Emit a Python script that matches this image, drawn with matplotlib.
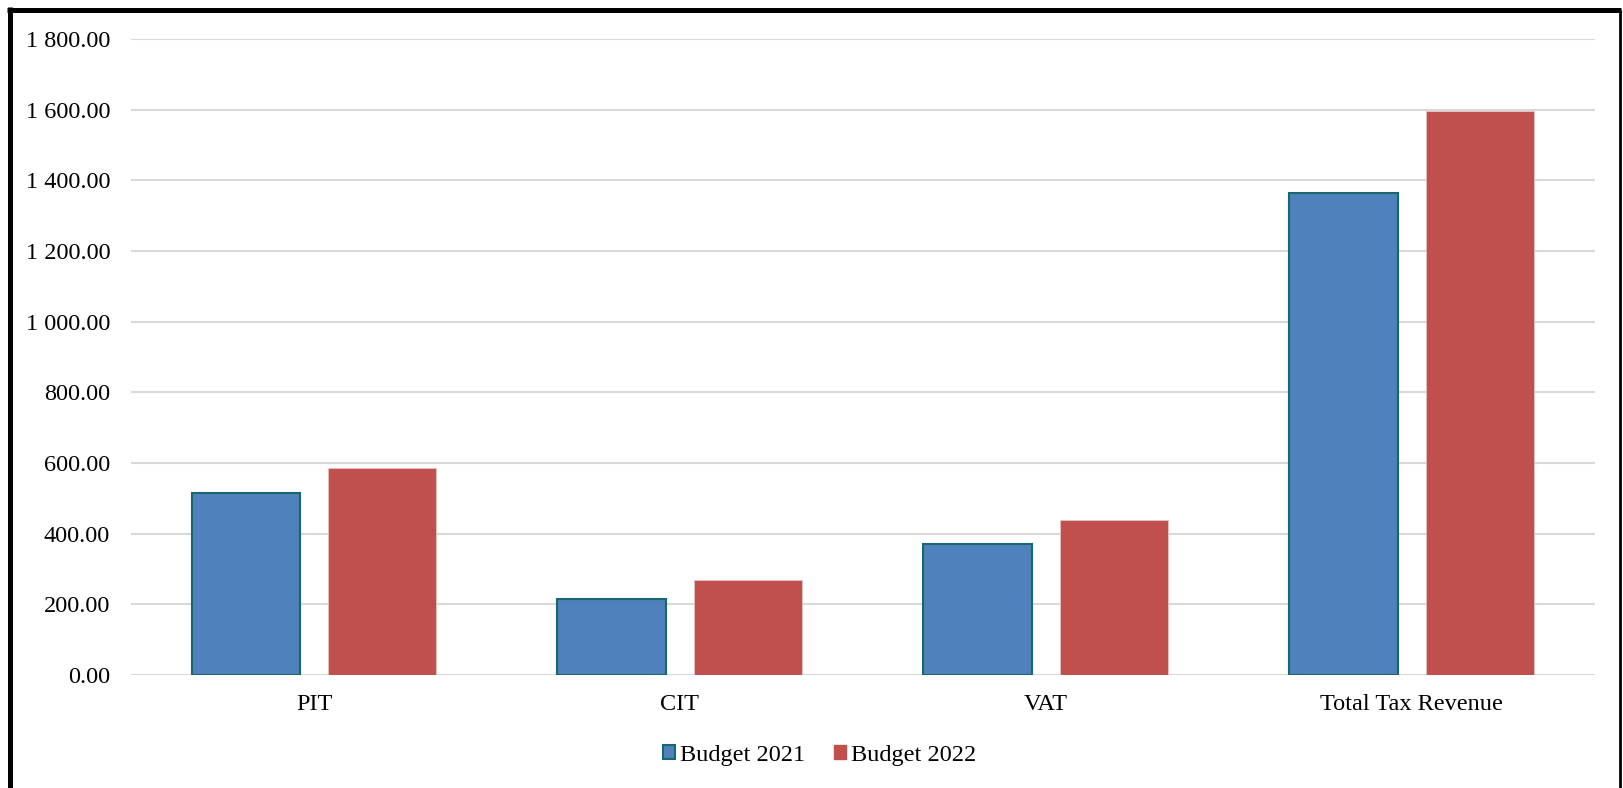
import matplotlib.pyplot as plt
import numpy as np
from matplotlib.lines import Line2D
from matplotlib.patches import Patch
from matplotlib.ticker import FuncFormatter, MultipleLocator

categories = ["PIT", "CIT", "VAT", "Total Tax Revenue"]
budget_2021 = [516, 214, 371, 1365]
budget_2022 = [586, 268, 439, 1597]
series_names = ["Budget 2021", "Budget 2022"]

BLUE = "#4f81bd"
BLUE_EDGE = "#17676b"
RED = "#c0504d"
GRID = "#d9d9d9"

plt.rcParams["font.family"] = ["Liberation Serif", "DejaVu Serif"]

fig = plt.figure(figsize=(16.23, 7.88), dpi=100)
ax = fig.add_axes([0.0807, 0.1434, 0.9020, 0.8071])

x = np.arange(len(categories))
w = 0.296
off = 0.1866
ax.bar(x - off, budget_2021, width=w, color=BLUE, edgecolor=BLUE_EDGE,
       linewidth=1.5, zorder=3)
ax.bar(x + off, budget_2022, width=w, color=RED, edgecolor="#e6c4c3",
       linewidth=0.6, zorder=3)

ax.set_xlim(-0.5, len(categories) - 0.5)
ax.set_ylim(0, 1800)
ax.yaxis.set_major_locator(MultipleLocator(200))
ax.yaxis.set_major_formatter(
    FuncFormatter(lambda v, _: f"{v:,.2f}".replace(",", " "))
)
ax.set_xticks(x)
ax.set_xticklabels(categories)
ax.tick_params(axis="both", length=0, labelsize=17.5, colors="black")
ax.tick_params(axis="y", pad=15)
ax.tick_params(axis="x", pad=14)
ax.grid(axis="y", color=GRID, linewidth=1.5, zorder=0)
ax.set_axisbelow(True)
for s in ax.spines.values():
    s.set_visible(False)

handles = [
    Patch(facecolor=BLUE, edgecolor=BLUE_EDGE, linewidth=1.5),
    Patch(facecolor=RED, edgecolor=RED),
]
fig.legend(handles, series_names, loc="center", ncol=2,
           bbox_to_anchor=(0.505, 1 - 755 / 788), frameon=False,
           fontsize=17.5, handlelength=0.5, handleheight=0.5,
           handletextpad=0.2, columnspacing=1.2)

# outer frame: heavy top/left, thin right, no bottom
fig.add_artist(Line2D([9.5 / 1623, 9.5 / 1623], [0, 1 - 7 / 788],
                      transform=fig.transFigure, color="black", linewidth=3.6,
                      solid_capstyle="butt"))
fig.add_artist(Line2D([7 / 1623, 1621 / 1623], [1 - 9.5 / 788, 1 - 9.5 / 788],
                      transform=fig.transFigure, color="black", linewidth=3.6,
                      solid_capstyle="butt"))
fig.add_artist(Line2D([1619.5 / 1623, 1619.5 / 1623], [0, 1 - 9.5 / 788],
                      transform=fig.transFigure, color="black", linewidth=2,
                      solid_capstyle="butt"))

fig.savefig("out.png", dpi=100)
